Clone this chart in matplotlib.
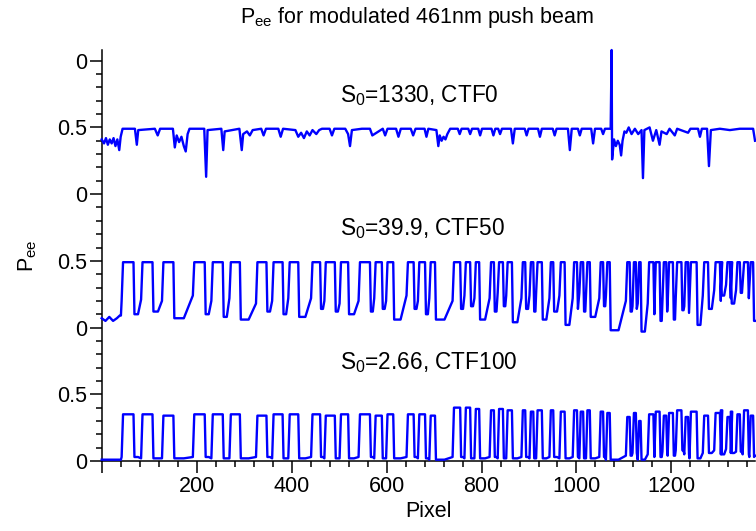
import matplotlib
matplotlib.use("Agg")
import matplotlib.pyplot as plt
from matplotlib.ticker import MultipleLocator, FuncFormatter

plt.rcParams['font.family'] = ['Liberation Sans', 'DejaVu Sans']
plt.rcParams['mathtext.fontset'] = 'custom'
plt.rcParams['mathtext.rm'] = 'Liberation Sans'
plt.rcParams['mathtext.it'] = 'Liberation Sans'

# ---- data ----
# CTF0 trace (no modulation visible), pixel / Pee
top_x = [0, 5, 9, 13, 17, 21, 25, 29, 33, 37,
         40, 44, 70, 74, 77, 112, 118, 123, 150, 154,
         158, 163, 168, 173, 177, 181, 185, 216, 220, 223,
         252, 256, 259, 290, 295, 298, 306, 312, 318, 336,
         341, 346, 372, 377, 382, 408, 414, 420, 426, 432,
         438, 444, 452, 458, 464, 480, 485, 490, 513, 519,
         523, 527, 548, 565, 570, 592, 597, 602, 620, 625,
         630, 651, 656, 661, 680, 684, 688, 705, 709, 712,
         716, 720, 724, 728, 734, 750, 754, 758, 772, 776,
         780, 793, 797, 801, 821, 825, 829, 835, 839, 843,
         862, 866, 870, 891, 895, 899, 919, 923, 927, 950,
         954, 958, 982, 986, 990, 1003, 1007, 1011, 1031, 1035,
         1039, 1052, 1056, 1060, 1072, 1074, 1075, 1079, 1083, 1087,
         1091, 1094, 1097, 1101, 1105, 1110, 1116, 1123, 1130, 1137,
         1140, 1143, 1154, 1161, 1168, 1175, 1179, 1190, 1196, 1207,
         1212, 1235, 1240, 1256, 1260, 1264, 1275, 1279, 1283, 1302,
         1323, 1344, 1372, 1376]
top_y = [0.41, 0.38, 0.42, 0.37, 0.41, 0.38, 0.42, 0.36, 0.41, 0.33,
         0.43, 0.49, 0.49, 0.37, 0.48, 0.49, 0.44, 0.49, 0.49, 0.35,
         0.44, 0.39, 0.43, 0.36, 0.32, 0.45, 0.49, 0.49, 0.13, 0.48,
         0.49, 0.33, 0.47, 0.49, 0.33, 0.45, 0.47, 0.44, 0.48, 0.49,
         0.44, 0.49, 0.49, 0.43, 0.49, 0.48, 0.43, 0.46, 0.42, 0.47,
         0.44, 0.48, 0.45, 0.48, 0.49, 0.49, 0.44, 0.49, 0.49, 0.45,
         0.36, 0.48, 0.49, 0.49, 0.44, 0.49, 0.44, 0.49, 0.49, 0.43,
         0.49, 0.49, 0.44, 0.49, 0.49, 0.43, 0.49, 0.48, 0.36, 0.44,
         0.40, 0.43, 0.41, 0.45, 0.49, 0.49, 0.45, 0.49, 0.49, 0.45,
         0.49, 0.49, 0.44, 0.49, 0.49, 0.44, 0.49, 0.49, 0.45, 0.49,
         0.49, 0.38, 0.49, 0.49, 0.44, 0.49, 0.49, 0.43, 0.49, 0.49,
         0.44, 0.49, 0.49, 0.33, 0.49, 0.49, 0.44, 0.49, 0.49, 0.38,
         0.49, 0.49, 0.45, 0.49, 0.49, 1.08, 0.26, 0.41, 0.36, 0.40,
         0.37, 0.29, 0.40, 0.47, 0.46, 0.50, 0.45, 0.49, 0.45, 0.48,
         0.12, 0.48, 0.50, 0.40, 0.48, 0.37, 0.47, 0.45, 0.49, 0.44,
         0.49, 0.46, 0.49, 0.49, 0.43, 0.49, 0.49, 0.21, 0.48, 0.49,
         0.48, 0.49, 0.49, 0.40]

# push-beam pulses (pixel where each pulse switches on / off)
pulse_on = [43, 84, 128, 193, 232, 270, 326, 360, 394, 442, 470, 502, 542, 575, 600, 643, 667, 691,
            740, 765, 786, 818, 835, 853, 885, 902, 916, 944, 965, 993, 1007, 1021, 1049, 1063,
            1105, 1119, 1130, 1151, 1165, 1182, 1193, 1210, 1228, 1239, 1267, 1291, 1305, 1316,
            1326, 1337, 1351, 1365]
pulse_off = [67, 107, 151, 217, 255, 291, 347, 381, 414, 460, 491, 519, 565, 590, 614, 657, 681, 702,
             755, 776, 795, 826, 845, 864, 892, 909, 927, 951, 975, 1001, 1014, 1028, 1056, 1070,
             1112, 1125, 1135, 1162, 1175, 1189, 1203, 1221, 1235, 1253, 1277, 1302, 1304, 1323,
             1325, 1344, 1361, 1372]

# CTF50 trace: level just before each rise, level just after each fall
mid_high = 0.49
mid_pre = [0.20, 0.21, 0.20, 0.24, 0.20, 0.22, 0.18, 0.20, 0.22, 0.22, 0.20, 0.18, 0.20, 0.22, 0.20, 0.24, 0.20, 0.22,
           0.20, 0.24, 0.22, 0.22, 0.26, 0.24, 0.22, 0.24, 0.26, 0.22, 0.24, 0.22, 0.26, 0.24, 0.22, 0.24,
           0.20, 0.16, 0.18, 0.18, 0.14, 0.20, 0.18, 0.22, 0.16, 0.20, 0.24, 0.28, 0.30, 0.32, 0.30, 0.28, 0.34, 0.30]
mid_floor = [0.10, 0.12, 0.07, 0.10, 0.08, 0.06, 0.12, 0.10, 0.08, 0.14, 0.12, 0.10, 0.12, 0.14, 0.06, 0.14, 0.10, 0.06,
             0.14, 0.16, 0.06, 0.12, 0.16, 0.04, 0.14, 0.12, 0.06, 0.12, 0.02, 0.14, 0.12, 0.08, 0.16, -0.02,
             0.12, 0.14, -0.03, 0.10, 0.05, 0.12, 0.06, 0.13, 0.11, 0.02, 0.14, 0.20, 0.24, 0.22, 0.18, 0.26, 0.22, 0.05]
mid_start_x = [0, 8, 16, 24, 32, 38]
mid_start_y = [0.07, 0.05, 0.08, 0.05, 0.07, 0.09]

# CTF100 trace: pulse heights and floors
bot_high = [0.35, 0.35, 0.34, 0.35, 0.35, 0.35, 0.34, 0.35, 0.35, 0.35, 0.34, 0.35, 0.35, 0.34, 0.35, 0.35, 0.35, 0.34,
            0.40, 0.40, 0.39, 0.38, 0.39, 0.38, 0.38, 0.37, 0.38, 0.38, 0.37, 0.38, 0.37, 0.38, 0.37, 0.36,
            0.33, 0.36, 0.30, 0.35, 0.37, 0.34, 0.36, 0.38, 0.33, 0.37, 0.34, 0.36, 0.38, 0.33, 0.37, 0.35, 0.38, 0.34]
bot_floor = [0.03, 0.02, 0.02, 0.03, 0.02, 0.02, 0.03, 0.02, 0.02, 0.03, 0.02, 0.02, 0.03, 0.02, 0.02, 0.03, 0.02, 0.01,
             0.03, 0.02, 0.02, 0.03, 0.02, 0.02, 0.03, 0.02, 0.02, 0.03, 0.02, 0.03, 0.02, 0.02, 0.03, 0.01,
             0.04, 0.06, 0.01, 0.05, 0.03, 0.07, 0.04, 0.08, 0.05, 0.02, 0.06, 0.08, 0.05, 0.09, 0.06, 0.07, 0.05, 0.03]

offsets = [2.0, 1.0, 0.0]
labels = ['S$_0$=1330, CTF0', 'S$_0$=39.9, CTF50', 'S$_0$=2.66, CTF100']


def pulse_trace(start_x, start_y, pre, high, floor, end_y):
    """Join the read-off levels into one polyline, pulse by pulse."""
    xs, ys = list(start_x), list(start_y)
    prev_floor = start_y[-1]
    for on, off, p, h, f in zip(pulse_on, pulse_off, pre, high, floor):
        # hold the floor over the first half of the gap, then creep up
        hold = (xs[-1] + on) / 2
        if on - 2 > hold > xs[-1]:
            xs.append(hold)
            ys.append(prev_floor)
        xs += [on - 1, on + 2, off, off + 2]
        ys += [p, h, h, f]
        prev_floor = f
    xs.append(1376)
    ys.append(end_y)
    return xs, ys


mid_x, mid_y = pulse_trace(mid_start_x, mid_start_y, mid_pre,
                           [mid_high] * len(pulse_on), mid_floor, 0.05)
bot_x, bot_y = pulse_trace([0, 38], [0.01, 0.01], bot_floor, bot_high, bot_floor, 0.04)

fig = plt.figure(figsize=(7.56, 5.31), dpi=100)
ax = fig.add_axes([0.1345, 0.1318, 0.8642, 0.774])

for (xs, ys), off in zip([(top_x, top_y), (mid_x, mid_y), (bot_x, bot_y)], offsets):
    ax.plot(xs, [v + off for v in ys], color='#0000FF', lw=1.7, clip_on=False, zorder=3)

for lab, off in zip(labels, offsets):
    ax.text(502, off + 0.69, lab, fontsize=16.3, ha='left', va='baseline')

ax.set_xlim(0, 1376)
ax.set_ylim(0, 3.08)
ax.xaxis.set_major_locator(MultipleLocator(200))
ax.xaxis.set_minor_locator(MultipleLocator(40))
ax.yaxis.set_major_locator(MultipleLocator(0.5))
ax.yaxis.set_minor_locator(MultipleLocator(0.1))
ax.xaxis.set_major_formatter(FuncFormatter(lambda v, p: '' if v == 0 else '%d' % v))
ax.yaxis.set_major_formatter(FuncFormatter(lambda v, p: '0' if abs(v - round(v)) < 1e-6 else '0.5'))

for s in ['top', 'right']:
    ax.spines[s].set_visible(False)
for s in ['left', 'bottom']:
    ax.spines[s].set_linewidth(1.1)
ax.tick_params(which='major', direction='out', length=8.5, width=1.1, labelsize=15.5, pad=2)
ax.tick_params(which='minor', direction='out', length=4.5, width=1.1)

ax.set_xlabel('Pixel', fontsize=15.5, labelpad=3)
ax.set_ylabel('P$_{ee}$', fontsize=15.5, labelpad=13)
fig.text(0.551, 0.99, 'P$_{ee}$ for modulated 461nm push beam', fontsize=15.5,
         ha='center', va='top')

fig.savefig('out.png', dpi=100)
